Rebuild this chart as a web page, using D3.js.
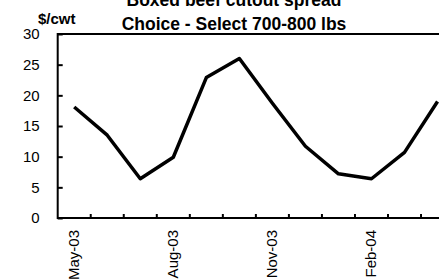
<!DOCTYPE html>
<html>
<head>
<meta charset="utf-8">
<script src="https://cdn.jsdelivr.net/npm/d3@7/dist/d3.min.js"></script>
<style>
  body { margin: 0; background: #fff; }
  svg { display: block; font-family: Arial, "Liberation Sans", sans-serif; }
</style>
</head>
<body>
<svg id="chart" width="439" height="280"></svg>
<script>
// months on the category axis (chart runs off the right edge)
var months = ["May-03", "Jun-03", "Jul-03", "Aug-03", "Sep-03", "Oct-03",
              "Nov-03", "Dec-03", "Jan-04", "Feb-04", "Mar-04", "Apr-04", "May-04"];
var spread = [18.1, 13.5, 6.4, 9.9, 22.9, 26.0, 18.7, 11.7, 7.2, 6.4, 10.7, 19.0];
var labelMonths = ["May-03", "Aug-03", "Nov-03", "Feb-04"];
var yTicks = [0, 5, 10, 15, 20, 25, 30];
var titleLines = ["Boxed beef cutout spread", "Choice - Select 700-800 lbs"];

var plotLeft = 57.7, plotBottom = 218, plotTop = 34, band = 33.03;

var svg = d3.select("#chart");

var x = d3.scaleBand()
  .domain(months)
  .range([plotLeft, plotLeft + band * months.length])
  .padding(0);

var y = d3.scaleLinear()
  .domain([0, 30])
  .range([plotBottom, plotTop]);

// plot frame
svg.append("rect")
  .attr("x", plotLeft)
  .attr("y", plotTop)
  .attr("width", band * months.length)
  .attr("height", plotBottom - plotTop)
  .style("fill", "none")
  .style("stroke", "#000")
  .style("stroke-width", 2);

// y axis, ticks pointing inwards
var yAxis = svg.append("g")
  .attr("transform", "translate(" + plotLeft + ",0)")
  .call(d3.axisLeft(y).tickValues(yTicks).tickSizeInner(-5).tickSizeOuter(0).tickPadding(18));
yAxis.select(".domain").remove();
yAxis.selectAll("line").style("stroke", "#000").style("stroke-width", 2);
yAxis.selectAll("text")
  .style("font-size", "15px")
  .style("fill", "#000")
  .attr("dy", "0.33em");

// x tick marks at the category boundaries
svg.append("g").selectAll("line")
  .data(months.slice(1))
  .enter().append("line")
    .attr("x1", function(d) { return x(d); })
    .attr("x2", function(d) { return x(d); })
    .attr("y1", plotBottom)
    .attr("y2", plotBottom - 4)
    .style("stroke", "#000")
    .style("stroke-width", 2);

// rotated month labels
svg.append("g").selectAll("text")
  .data(labelMonths)
  .enter().append("text")
    .attr("transform", function(d) {
      return "translate(" + (x(d) + x.bandwidth() / 2 + 5) + ",230) rotate(-90)";
    })
    .attr("text-anchor", "end")
    .style("font-size", "15px")
    .text(function(d) { return d; });

// spread line
var line = d3.line()
  .x(function(d, i) { return x(months[i]) + x.bandwidth() / 2; })
  .y(function(d) { return y(d); });

svg.append("path")
  .datum(spread)
  .attr("d", line)
  .style("fill", "none")
  .style("stroke", "#000")
  .style("stroke-width", 3.5)
  .style("stroke-linejoin", "round");

// titles
svg.append("g").selectAll("text")
  .data(titleLines)
  .enter().append("text")
    .attr("x", 234)
    .attr("y", function(d, i) { return 6 + i * 23.5; })
    .attr("text-anchor", "middle")
    .style("font-size", "17.5px")
    .style("font-weight", "bold")
    .text(function(d) { return d; });

svg.append("text")
  .attr("x", 38)
  .attr("y", 24)
  .style("font-size", "15px")
  .style("font-weight", "bold")
  .text("$/cwt");
</script>
</body>
</html>
